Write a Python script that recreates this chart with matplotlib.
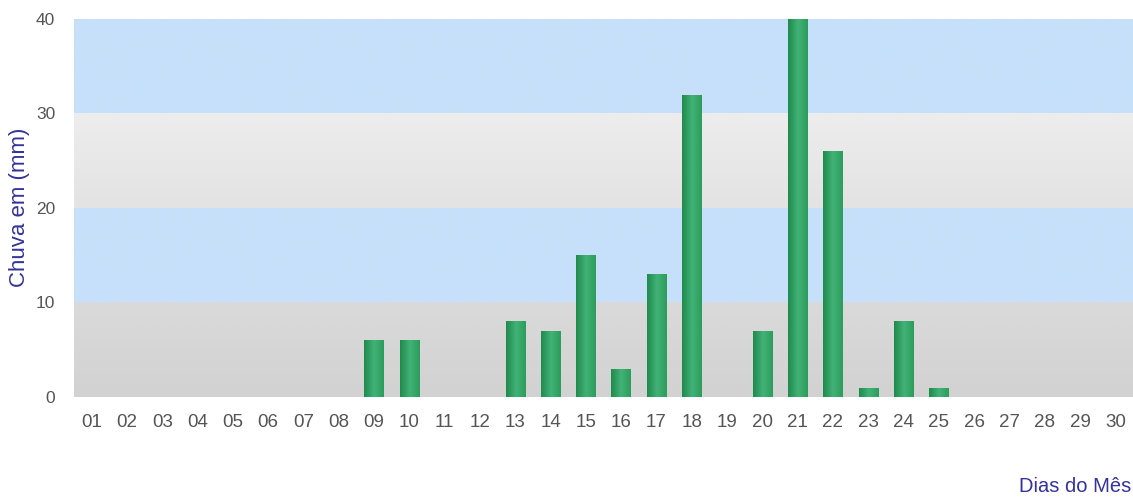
import numpy as np
import matplotlib.pyplot as plt
from matplotlib.colors import LinearSegmentedColormap

# daily rainfall (mm)
dias = ['%02d' % d for d in range(1, 31)]
chuva = [0, 0, 0, 0, 0, 0, 0, 0, 6, 6, 0, 0, 8, 7, 15, 3, 13, 32, 0, 7,
         40, 26, 1, 8, 1, 0, 0, 0, 0, 0]
yticks = [0, 10, 20, 30, 40]

plt.rcParams['font.family'] = ['Liberation Sans', 'DejaVu Sans']

fig = plt.figure(figsize=(11.33, 5), dpi=100)
ax = fig.add_axes([74 / 1133, 103 / 500, 1 - 74 / 1133, 378 / 500])

ax.set_xlim(0.5, 30.5)
ax.set_ylim(0, 40)

# background bands, alternating grey / blue (grey ones slightly shaded)
band_cols = [('#d2d2d2', '#dadada'), ('#c6e0fa', '#c6e0fa'),
             ('#e3e3e3', '#ededed'), ('#c6e0fa', '#c6e0fa')]
vgrad = np.linspace(0, 1, 32).reshape(-1, 1)
for i, (c0, c1) in enumerate(band_cols):
    cm = LinearSegmentedColormap.from_list('b%d' % i, [c0, c1])
    ax.imshow(vgrad, cmap=cm, aspect='auto', origin='lower',
              extent=(0.5, 30.5, yticks[i], yticks[i + 1]), zorder=0,
              interpolation='bilinear')

x = np.arange(1, len(dias) + 1)
bars = ax.bar(x, chuva, width=0.55, color='#2f9e60', zorder=2)

# horizontal shading on each bar
grad = np.linspace(0, 1, 64).reshape(1, -1)
cmap = LinearSegmentedColormap.from_list('g', ['#1f8a4c', '#42b276', '#2d9d5d'])
for b in bars:
    h = b.get_height()
    if h <= 0:
        continue
    x0 = b.get_x()
    w = b.get_width()
    im = ax.imshow(grad, cmap=cmap, aspect='auto', extent=(x0, x0 + w, 0, h),
                   zorder=3, interpolation='bicubic')
    im.set_clip_path(b)

ax.set_xlim(0.5, 30.5)
ax.set_ylim(0, 40)
ax.set_xticks(x)
ax.set_xticklabels(dias)
ax.set_yticks(yticks)
ax.tick_params(length=0, labelcolor='#555555')
ax.tick_params(axis='x', pad=12, labelsize=13.5)
ax.tick_params(axis='y', pad=13.5, labelsize=12.5)
for s in ax.spines.values():
    s.set_visible(False)

fig.text(20 / 1133, 0.586, 'Chuva em (mm)', rotation=90, color='#33339a',
         fontsize=16, ha='center', va='center')
fig.text(1131 / 1133, 13 / 500, 'Dias do Mês', color='#33339a',
         fontsize=14.5, ha='right', va='center')

fig.savefig('out.png', dpi=100)
